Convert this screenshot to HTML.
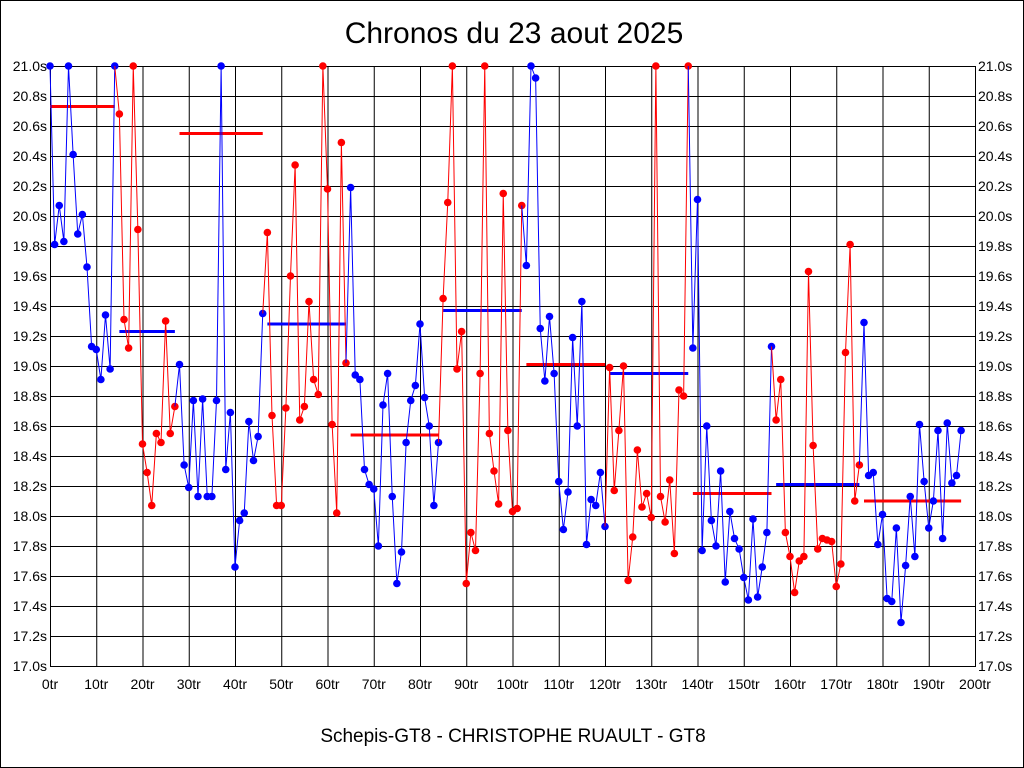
<!DOCTYPE html>
<html><head><meta charset="utf-8"><style>
html,body{margin:0;padding:0;background:#fff;}
svg{display:block;font-family:"Liberation Sans",sans-serif;}
</style></head><body>
<svg id="chart" width="1024" height="768" xmlns="http://www.w3.org/2000/svg">
<rect x="0.5" y="0.5" width="1023" height="767" fill="#fff" stroke="#000"/>
<text x="514" y="43" text-anchor="middle" font-size="30">Chronos du 23 aout 2025</text>
<text x="513" y="742" text-anchor="middle" font-size="19">Schepis-GT8 - CHRISTOPHE RUAULT - GT8</text>
<g id="grid"></g><g id="means"></g><g id="series"></g>
</svg>
<script>
const stintColors = ['blue','red','blue','red','blue','red','blue','red','blue','red','blue'];
const stint0 = [21.00,19.81,20.07,19.83,21.00,20.41,19.88,20.01,19.66,19.13,19.11,18.91,19.34,18.98,21.00];
const stint1 = [20.68,19.31,19.12,21.00,19.91,18.48,18.29,18.07,18.55,18.49,19.30,18.55,18.73];
const stint2 = [19.01,18.34,18.19,18.77,18.13,18.78,18.13,18.13,18.77,21.00,18.31,18.69,17.66,17.97,18.02,18.63,18.37,18.53,19.35];
const stint3 = [19.89,18.67,18.07,18.07,18.72,19.60,20.34,18.64,18.73,19.43,18.91,18.81,21.00,20.18,18.61,18.02,20.49,19.02];
const stint4 = [20.19,18.94,18.91,18.31,18.21,18.18,17.80,18.74,18.95,18.13,17.55,17.76,18.49,18.77,18.87,19.28,18.79,18.60,18.07,18.49];
const stint5 = [19.45,20.09,21.00,18.98,19.23,17.55,17.89,17.77,18.95,21.00,18.55,18.30,18.08,20.15,18.57,18.03,18.05,20.07];
const stint6 = [19.67,21.00,20.92,19.25,18.90,19.33,18.95,18.23,17.91,18.16,19.19,18.60,19.43,17.81,18.11,18.07,18.29,17.93];
const stint7 = [18.99,18.17,18.57,19.00,17.57,17.86,18.44,18.06,18.15,17.99,21.00,18.13,17.96,18.24,17.75,18.84,18.80,21.00];
const stint8 = [19.12,20.11,17.77,18.60,17.97,17.80,18.30,17.56,18.03,17.85,17.78,17.59,17.44,17.98,17.46,17.66,17.89,19.13];
const stint9 = [18.64,18.91,17.89,17.73,17.49,17.70,17.73,19.63,18.47,17.78,17.85,17.84,17.83,17.53,17.68,19.09,19.81,18.10,18.34];
const stint10 = [19.29,18.27,18.29,17.81,18.01,17.45,17.43,17.92,17.29,17.67,18.13,17.73,18.61,18.23,17.92,18.10,18.57,17.85,18.62,18.22,18.27,18.57];
const stintMeans = [20.73,19.23,20.55,19.28,18.54,19.37,19.01,18.95,18.15,18.21,18.10];
const xTicks = [0,10,20,30,40,50,60,70,80,90,100,110,120,130,140,150,160,170,180,190,200];
const yTicks = [17.0,17.2,17.4,17.6,17.8,18.0,18.2,18.4,18.6,18.8,19.0,19.2,19.4,19.6,19.8,20.0,20.2,20.4,20.6,20.8,21.0];
const stints = [stint0,stint1,stint2,stint3,stint4,stint5,stint6,stint7,stint8,stint9,stint10];

const X0=50,X1=975,Y0=666,Y1=66;
const xs = l => X0 + (l/200)*(X1-X0);
const ys = v => Y0 - (v-17)/4*(Y0-Y1);
const NS='http://www.w3.org/2000/svg';
function mk(tag, attrs, parent){const e=document.createElementNS(NS,tag);for(const k in attrs)e.setAttribute(k,attrs[k]);parent.appendChild(e);return e;}
const grid=document.getElementById('grid'), means=document.getElementById('means'), series=document.getElementById('series');

xTicks.forEach(t=>{
  const l=mk('line',{x1:xs(t)+.5,x2:xs(t)+.5,y1:Y1,y2:Y0,stroke:'#000','stroke-width':1},grid);
  
  
  const tx=mk('text',{x:xs(t),y:Y0+23,'text-anchor':'middle','font-size':14},grid);
  tx.textContent=t+'tr';
  
  
});
yTicks.forEach(t=>{
  const l=mk('line',{x1:X0,x2:X1,y1:ys(t)+.5,y2:ys(t)+.5,stroke:'#000','stroke-width':1},grid);
  
  
  const a=mk('text',{x:X0-3,y:ys(t)+5,'text-anchor':'end','font-size':14},grid);
  a.textContent=t.toFixed(1)+'s';
  
  
  const b=mk('text',{x:X1+3,y:ys(t)+5,'text-anchor':'start','font-size':14},grid);
  b.textContent=t.toFixed(1)+'s';
  
  
});
const r=mk('rect',{x:X0+.5,y:Y1+.5,width:X1-X0,height:Y0-Y1,fill:'none',stroke:'#000'},grid);



let lap=0, prev=null;
stints.forEach((s,i)=>{
  const col=stintColors[i], start=lap;
  const pts=[];
  if(prev) pts.push(prev);
  s.forEach((v,j)=>pts.push([xs(start+j),ys(v)]));
  const pl=mk('polyline',{points:pts.map(p=>p.join(',')).join(' '),fill:'none',stroke:col,'stroke-width':1},series);
  
  
  s.forEach((v,j)=>{
    const c=mk('circle',{cx:xs(start+j),cy:ys(v),r:3.8,fill:col},series);
    
    
  });
  const end=start+s.length-1;
  const m=mk('line',{x1:xs(start),x2:xs(end),y1:ys(stintMeans[i]),y2:ys(stintMeans[i]),stroke:col==='blue'?'red':'blue','stroke-width':3},means);
  
  
  prev=[xs(end),ys(s[s.length-1])];
  lap=end+1;
});
</script>
</body></html>
